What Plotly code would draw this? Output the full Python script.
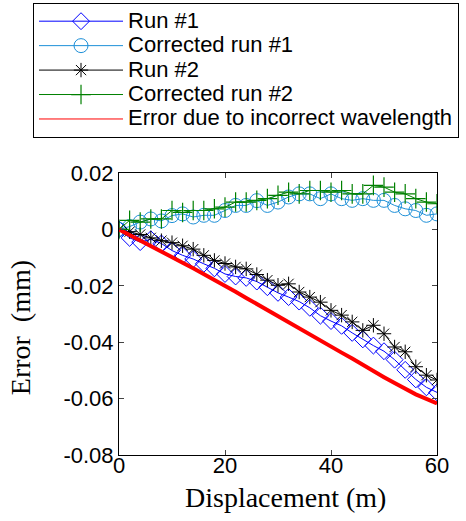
import plotly.graph_objects as go

displacement = [0, 2, 4, 6, 8, 10, 12, 14, 16, 18, 20, 22, 24, 26, 28, 30,
                32, 34, 36, 38, 40, 42, 44, 46, 48, 50, 52, 54, 56, 58, 60]

run1 = [0, -0.0030, -0.0045, -0.0035, -0.0050, -0.0075, -0.0092, -0.0105, -0.0122, -0.0138,
        -0.0158, -0.0167, -0.0172, -0.0185, -0.0205, -0.0225, -0.0240, -0.0256, -0.0278, -0.0306,
        -0.0325, -0.0342, -0.0367, -0.0390, -0.0412, -0.0432, -0.0462, -0.0498, -0.0532, -0.0560,
        -0.0578]

corrected1 = [0, 0.0010, 0.0026, 0.0037, 0.0030, 0.0049, 0.0055, 0.0044, 0.0050, 0.0050,
              0.0067, 0.0085, 0.0085, 0.0102, 0.0085, 0.0097, 0.0115, 0.0126, 0.0126, 0.0109,
              0.0126, 0.0109, 0.0103, 0.0109, 0.0103, 0.0103, 0.0085, 0.0073, 0.0067, 0.0050,
              0.0055]

run2 = [0, -0.0008, -0.0018, -0.0030, -0.0040, -0.0047, -0.0058, -0.0070, -0.0092, -0.0110,
        -0.0121, -0.0133, -0.0140, -0.0160, -0.0180, -0.0198, -0.0193, -0.0222, -0.0240, -0.0258,
        -0.0287, -0.0304, -0.0328, -0.0358, -0.0340, -0.0370, -0.0417, -0.0434, -0.0487, -0.0517,
        -0.0534]

corrected2 = [0, 0.0032, 0.0026, 0.0037, 0.0037, 0.0067, 0.0060, 0.0067, 0.0067, 0.0073,
              0.0079, 0.0097, 0.0097, 0.0103, 0.0109, 0.0121, 0.0132, 0.0126, 0.0138, 0.0138,
              0.0132, 0.0138, 0.0126, 0.0126, 0.0156, 0.0150, 0.0132, 0.0126, 0.0109, 0.0097,
              0.0091]

wavelength_error = [0, -0.0019, -0.0039, -0.0059, -0.0079, -0.0099, -0.0118, -0.0138, -0.0158, -0.0178,
                    -0.0199, -0.0221, -0.0243, -0.0265, -0.0287, -0.0308, -0.0329, -0.0350, -0.0373, -0.0395,
                    -0.0416, -0.0437, -0.0458, -0.0481, -0.0503, -0.0524, -0.0545, -0.0566, -0.0585, -0.0601,
                    -0.0617]

y_ticks = [0.02, 0, -0.02, -0.04, -0.06, -0.08]
y_ticktext = ["0.02", "0", "-0.02", "-0.04", "-0.06", "-0.08"]
x_ticks = [0, 20, 40, 60]

series_names = ["Run #1", "Corrected run #1", "Run #2", "Corrected run #2",
                "Error due to incorrect wavelength"]


def lg(name):
    return '<span style="font-size:22px">' + name + '</span>'


fig = go.Figure()
fig.add_trace(go.Scatter(x=displacement, y=run1, name=lg(series_names[0]), mode="lines+markers",
                         line=dict(color="#0000FF", width=1),
                         marker=dict(symbol="diamond-open", size=13, color="#0000FF", line=dict(width=1))))
fig.add_trace(go.Scatter(x=displacement, y=corrected1, name=lg(series_names[1]), mode="lines+markers",
                         line=dict(color="#1E90D8", width=1),
                         marker=dict(symbol="circle-open", size=14, color="#1E90D8", line=dict(width=1))))
fig.add_trace(go.Scatter(x=displacement, y=run2, name=lg(series_names[2]), mode="lines+markers",
                         line=dict(color="#000000", width=1),
                         marker=dict(symbol="asterisk-open", size=12, color="#000000", line=dict(width=1))))
fig.add_trace(go.Scatter(x=displacement, y=corrected2, name=lg(series_names[3]), mode="lines+markers",
                         line=dict(color="#008000", width=1),
                         marker=dict(symbol="cross-thin-open", size=14, color="#008000", line=dict(width=1.2))))
fig.add_trace(go.Scatter(x=displacement, y=wavelength_error, name=lg(series_names[4]),
                         mode="lines", line=dict(color="#FF0000", width=4), showlegend=False,
                         legendgroup="err"))
# legend-only entry with the thin line shown in the reference legend
fig.add_trace(go.Scatter(x=[None], y=[None], name=lg(series_names[4]), mode="lines",
                         line=dict(color="#FF0000", width=1), legendgroup="err"))

serif = "Liberation Serif, Times New Roman, serif"

fig.update_layout(
    width=466, height=521,
    margin=dict(l=119, r=29, t=173, b=66, autoexpand=False),
    paper_bgcolor="white", plot_bgcolor="white",
    font=dict(family="Liberation Sans, Arial, sans-serif", size=22, color="black"),
    showlegend=True,
    legend=dict(x=-0.2704, y=1.603, xanchor="left", yanchor="top",
                bordercolor="black", borderwidth=1, bgcolor="white",
                font=dict(size=16.5), itemwidth=84, tracegroupgap=0),
    xaxis=dict(range=[0, 60], tickvals=x_ticks, ticks="inside", ticklen=5, mirror="ticks",
               showline=True, linecolor="black", linewidth=1, showgrid=False, zeroline=False,
               ticklabelstandoff=-9),
    yaxis=dict(range=[-0.08, 0.02], tickvals=y_ticks, ticktext=y_ticktext, ticks="inside", ticklen=5,
               mirror="ticks", showline=True, linecolor="black", linewidth=1, showgrid=False, zeroline=False),
    annotations=[
        dict(text="Displacement (m)", xref="paper", yref="paper", x=0.525, y=-0.152,
             xanchor="center", yanchor="middle", showarrow=False, font=dict(family=serif, size=28)),
        dict(text="Error  (mm)", xref="paper", yref="paper", x=-0.311, y=0.45, textangle=-90,
             xanchor="center", yanchor="middle", showarrow=False, font=dict(family=serif, size=28)),
    ],
)

fig.write_html("out.html", config={"displayModeBar": False},
               post_script="document.body.style.margin='0px';")
